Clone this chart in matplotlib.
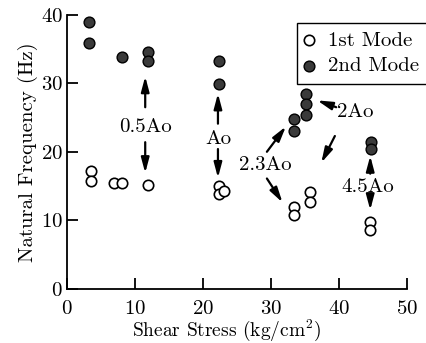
import matplotlib
matplotlib.use("Agg")
import matplotlib.pyplot as plt

mode1_x = [3.5, 3.5, 6.9, 8.1, 11.9, 22.3, 22.3, 23.1, 33.4, 33.4, 35.7, 35.7, 44.6, 44.6]
mode1_y = [17.2, 15.8, 15.4, 15.4, 15.2, 15.0, 13.8, 14.3, 12.0, 10.7, 14.2, 12.7, 9.8, 8.6]

mode2_x = [3.2, 3.2, 8.1, 11.9, 11.9, 22.4, 22.4, 33.4, 33.4, 35.1, 35.1, 35.1, 44.7, 44.7]
mode2_y = [39.0, 35.9, 33.9, 34.5, 33.3, 33.2, 29.9, 24.8, 23.0, 28.5, 27.0, 25.4, 21.4, 20.4]

labels = ["0.5Ao", "Ao", "2.3Ao", "2Ao", "4.5Ao"]
label_xy = [(11.5, 23.6), (22.2, 21.9), (29.1, 18.1), (42.4, 25.8), (44.3, 14.8)]

# arrows: (tail, head)
arrows = [
    ((11.5, 26.5), (11.5, 31.0)),
    ((11.5, 21.4), (11.5, 16.9)),
    ((22.2, 24.1), (22.2, 28.5)),
    ((22.2, 20.4), (22.2, 16.2)),
    ((29.4, 20.0), (32.2, 23.7)),
    ((29.4, 16.1), (31.7, 12.6)),
    ((39.6, 26.5), (36.8, 27.5)),
    ((39.4, 22.3), (37.4, 18.4)),
    ((44.6, 16.8), (44.6, 19.4)),
    ((44.6, 13.5), (44.6, 11.5)),
]

plt.rcParams.update({
    "font.family": "cmr10",
    "mathtext.fontset": "cm",
    "axes.formatter.use_mathtext": True,
    "font.size": 15,
})

fig = plt.figure(figsize=(4.27, 3.43), dpi=100)
ax = fig.add_axes([0.157, 0.158, 0.796, 0.799])

ax.scatter(mode1_x, mode1_y, s=56, facecolor="white", edgecolor="black", lw=1.2,
           label="1st Mode", zorder=3)
ax.scatter(mode2_x, mode2_y, s=60, facecolor="#3a3a3a", edgecolor="black", lw=1.0,
           label="2nd Mode", zorder=3)

for t, (x, y) in zip(labels, label_xy):
    ax.text(x, y, t, ha="center", va="center")

for tail, head in arrows:
    ax.annotate("", xy=head, xytext=tail,
                arrowprops=dict(arrowstyle="-|>,head_length=0.6,head_width=0.16",
                                color="black", lw=1.6, shrinkA=0, shrinkB=0))

ax.set_xlim(0, 50)
ax.set_ylim(0, 40)
ax.set_xticks(range(0, 51, 10))
ax.set_yticks(range(0, 41, 10))
ax.set_xlabel(r"Shear Stress (kg/cm$^2$)", fontsize=14)
ax.xaxis.set_label_coords(0.47, -0.106)
ax.set_ylabel("Natural Frequency (Hz)", labelpad=2)
ax.spines[["top", "right"]].set_visible(False)
ax.spines[["left", "bottom"]].set_linewidth(1.3)
ax.tick_params(direction="in", length=8, width=1.3)
ax.tick_params(axis="x", pad=8)
ax.tick_params(axis="y", pad=3)

ax.legend(loc="upper left", bbox_to_anchor=(0.676, 0.971), borderaxespad=0,
          frameon=True, fancybox=False, edgecolor="black", framealpha=1,
          handletextpad=0.7, borderpad=0.4, labelspacing=0.35, handlelength=0.4)

fig.savefig("out.png", dpi=100)
